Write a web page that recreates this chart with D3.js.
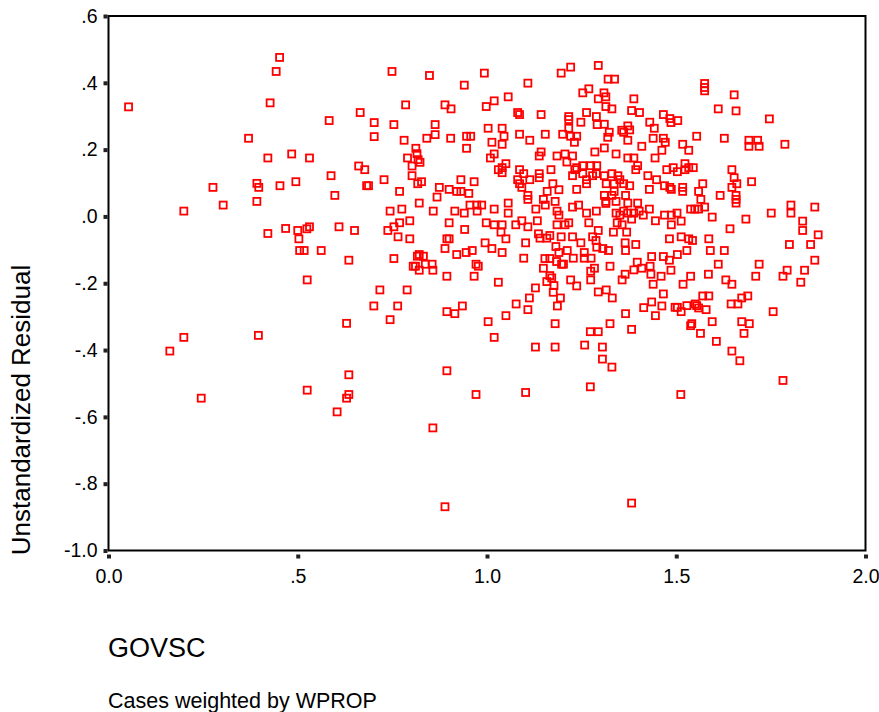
<!DOCTYPE html>
<html>
<head>
<meta charset="utf-8">
<script src="https://cdn.jsdelivr.net/npm/d3@7"></script>
<style>
  body { margin: 0; background: #fff; }
  text { font-family: "Liberation Sans", Arial, sans-serif; fill: #000; }
</style>
</head>
<body>
<div id="chart"></div>
<script>
// GOVSC (x) and unstandardized residual (y)
var govsc = [
  0.452,0.443,0.053,0.427,0.370,0.421,0.484,0.495,0.276,0.392,
  0.397,0.453,0.303,0.392,0.199,0.468,0.500,0.421,0.503,0.505,
  0.199,0.162,0.396,0.245,0.749,0.848,0.940,0.785,0.889,0.905,
  0.665,0.583,0.702,0.754,0.863,0.702,0.863,0.781,0.841,0.904,
  0.946,0.957,0.946,0.812,0.531,0.815,0.790,0.818,0.823,0.802,
  0.661,0.677,0.588,0.802,0.728,0.817,0.827,0.682,0.687,0.931,
  0.966,0.874,0.900,0.920,0.931,0.952,0.769,0.868,0.598,0.821,
  0.955,0.973,0.744,0.775,0.858,0.915,0.940,0.974,0.796,0.769,
  0.900,0.531,0.524,0.609,0.754,0.650,0.738,0.941,0.765,0.796,
  0.894,0.900,0.517,0.562,0.635,0.754,0.889,0.920,0.945,0.961,
  0.816,0.821,0.832,0.811,0.805,0.837,0.855,0.821,0.857,0.894,
  0.966,0.971,0.977,0.525,0.717,0.789,0.701,0.764,0.894,0.915,
  0.935,0.744,0.629,0.894,0.635,0.525,0.635,0.629,0.604,0.971,
  0.857,0.889,1.221,1.196,1.294,0.993,1.320,1.337,1.108,1.269,
  1.253,1.309,1.294,1.314,1.388,1.056,1.019,0.998,1.314,1.330,
  1.081,1.086,1.143,1.263,1.382,1.403,1.216,1.216,1.289,1.248,
  1.291,1.310,1.430,1.003,1.040,1.216,1.372,1.377,1.356,1.361,
  1.323,1.319,1.442,1.086,1.045,1.154,1.200,1.221,1.237,1.113,
  1.013,1.040,1.231,1.372,1.439,1.409,1.310,1.143,1.138,1.019,
  1.009,1.185,1.206,1.226,1.285,1.341,1.372,1.388,1.444,1.050,
  1.030,1.040,1.040,1.086,1.169,1.211,1.253,1.274,1.290,1.237,
  1.232,1.398,1.393,1.138,1.138,1.097,1.113,1.081,1.086,1.092,
  1.226,1.253,1.263,1.279,1.289,1.310,1.330,1.346,1.351,1.361,
  1.315,1.336,1.377,1.425,1.448,1.174,1.190,1.159,1.237,1.263,
  1.336,1.330,1.310,1.366,1.429,1.108,1.108,1.149,1.154,1.180,
  1.056,1.056,1.019,0.986,1.129,1.185,1.190,1.242,1.226,1.263,
  1.289,1.314,1.314,1.341,1.372,1.398,1.341,1.351,1.361,1.372,
  1.388,1.402,1.413,1.429,1.382,0.998,1.019,1.040,1.076,1.092,
  1.108,1.133,1.185,1.206,1.216,1.269,1.294,1.344,1.357,1.445,
  1.037,1.050,0.995,1.013,1.040,1.102,1.136,1.140,1.158,1.166,
  1.196,1.226,1.248,1.279,1.288,1.290,1.306,1.321,1.334,1.365,
  1.369,1.393,1.366,1.182,1.212,1.190,1.257,1.257,1.275,1.228,
  1.097,1.153,1.166,1.184,1.197,1.202,1.149,1.166,1.171,1.158,
  1.177,1.175,1.221,1.237,1.274,1.274,1.284,1.325,1.365,1.357,
  1.388,1.397,1.409,1.431,1.435,1.433,1.439,1.030,1.128,1.112,
  1.194,1.294,1.315,1.331,1.077,1.108,1.186,1.050,1.003,1.180,
  1.366,1.414,1.435,1.445,1.325,1.273,1.294,1.382,1.019,1.128,
  1.180,1.258,1.305,1.305,1.330,1.273,1.102,1.382,1.575,1.575,
  1.575,1.653,1.611,1.658,1.746,1.466,1.483,1.486,1.504,1.554,
  1.627,1.466,1.471,1.517,1.533,1.462,1.692,1.692,1.715,1.719,
  1.787,1.475,1.492,1.503,1.523,1.523,1.533,1.545,1.647,1.653,
  1.660,1.647,1.699,1.570,1.469,1.487,1.483,1.517,1.517,1.559,
  1.616,1.565,1.658,1.658,1.658,1.538,1.549,1.559,1.575,1.469,
  1.487,1.502,1.513,1.487,1.595,1.684,1.751,1.803,1.803,1.866,
  1.834,1.642,1.834,1.875,1.482,1.513,1.533,1.543,1.586,1.799,
  1.855,1.466,1.482,1.503,1.528,1.590,1.627,1.611,1.719,1.866,
  1.793,1.782,1.839,1.710,1.829,1.486,1.460,1.538,1.518,1.585,
  1.631,1.647,1.466,1.462,1.570,1.586,1.673,1.689,1.645,1.663,
  1.497,1.503,1.513,1.528,1.550,1.554,1.559,1.579,1.756,1.595,
  1.673,1.693,1.541,1.538,1.564,1.679,1.606,1.647,1.668,1.782,
  1.512
];

var residual = [
  0.476,0.434,0.328,0.340,0.234,0.175,0.187,0.104,0.087,0.099,
  0.087,0.092,0.034,0.045,0.016,-0.036,-0.042,-0.051,-0.067,-0.102,
  -0.362,-0.403,-0.356,-0.544,0.434,0.422,0.393,0.334,0.334,0.322,
  0.311,0.287,0.281,0.275,0.275,0.239,0.245,0.228,0.234,0.234,
  0.240,0.240,0.204,0.204,0.175,0.188,0.175,0.170,0.162,0.151,
  0.151,0.140,0.122,0.122,0.110,0.098,0.104,0.092,0.092,0.110,
  0.104,0.087,0.081,0.075,0.075,0.069,0.075,0.058,0.063,0.040,
  0.034,0.034,0.016,0.022,0.016,0.016,0.010,0.016,-0.013,-0.019,
  -0.019,-0.031,-0.037,-0.031,-0.031,-0.042,-0.042,-0.039,-0.061,-0.067,
  -0.067,-0.067,-0.102,-0.102,-0.131,-0.126,-0.096,-0.114,-0.108,-0.102,
  -0.119,-0.114,-0.119,-0.149,-0.149,-0.143,-0.143,-0.161,-0.161,-0.179,
  -0.179,-0.143,-0.149,-0.190,-0.220,-0.220,-0.268,-0.268,-0.285,-0.291,
  -0.268,-0.309,-0.320,-0.462,-0.474,-0.520,-0.533,-0.544,-0.585,-0.533,
  -0.633,-0.869,0.447,0.429,0.452,0.429,0.411,0.411,0.399,0.382,
  0.370,0.370,0.352,0.358,0.352,0.358,0.346,0.329,0.329,0.322,
  0.311,0.305,0.305,0.311,0.317,0.311,0.299,0.290,0.299,0.282,
  0.275,0.276,0.282,0.264,0.264,0.264,0.271,0.259,0.258,0.252,
  0.252,0.237,0.264,0.246,0.240,0.246,0.246,0.240,0.240,0.228,
  0.222,0.216,0.222,0.228,0.234,0.210,0.205,0.193,0.181,0.187,
  0.175,0.181,0.187,0.181,0.193,0.187,0.175,0.175,0.175,0.158,
  0.140,0.146,0.131,0.140,0.140,0.163,0.152,0.152,0.152,0.146,
  0.140,0.152,0.140,0.128,0.116,0.128,0.110,0.110,0.098,0.087,
  0.122,0.128,0.110,0.122,0.128,0.122,0.128,0.122,0.110,0.098,
  0.098,0.098,0.092,0.122,0.110,0.098,0.080,0.075,0.081,0.098,
  0.075,0.063,0.063,0.063,0.081,0.063,0.051,0.051,0.034,0.045,
  0.040,0.010,0.022,0.034,0.022,0.016,0.004,0.034,0.028,0.010,
  0.016,0.045,0.039,0.045,0.040,0.040,0.010,0.004,0.016,0.010,
  0.010,0.016,0.004,0.022,-0.008,-0.019,-0.025,-0.025,-0.025,-0.013,
  -0.031,-0.013,-0.025,-0.025,-0.019,-0.019,-0.042,-0.019,-0.025,-0.013,
  -0.047,-0.067,-0.079,-0.096,-0.108,-0.079,-0.052,-0.065,-0.065,-0.057,
  -0.061,-0.061,-0.079,-0.061,-0.072,-0.092,-0.096,-0.102,-0.047,-0.079,
  -0.047,-0.084,-0.102,-0.090,-0.102,-0.108,-0.108,-0.125,-0.125,-0.125,
  -0.125,-0.126,-0.126,-0.135,-0.143,-0.143,-0.155,-0.177,-0.184,-0.195,
  -0.207,-0.227,-0.190,-0.208,-0.164,-0.190,-0.155,-0.149,-0.173,-0.190,
  -0.160,-0.137,-0.155,-0.149,-0.120,-0.173,-0.203,-0.197,-0.214,-0.244,
  -0.244,-0.226,-0.220,-0.244,-0.262,-0.279,-0.268,-0.297,-0.315,-0.321,
  -0.291,-0.273,-0.256,-0.297,-0.321,-0.345,-0.345,-0.338,-0.362,-0.391,
  -0.391,-0.385,-0.391,-0.427,-0.451,-0.510,-0.527,-0.858,0.398,0.386,
  0.376,0.364,0.322,0.316,0.292,0.305,0.293,0.281,0.287,0.240,
  0.234,0.234,0.222,0.216,0.198,0.198,0.228,0.210,0.228,0.210,
  0.216,0.140,0.146,0.134,0.158,0.140,0.146,0.146,0.140,0.116,
  0.098,0.087,0.104,0.098,0.092,0.081,0.087,0.087,0.075,0.075,
  0.063,0.051,0.063,0.051,0.040,0.022,0.022,0.022,0.028,0.004,
  0.004,0.010,-0.014,-0.025,-0.002,-0.008,0.010,0.034,0.010,0.028,
  -0.014,-0.037,-0.042,-0.055,-0.067,-0.061,-0.067,-0.072,-0.067,-0.084,
  -0.084,-0.120,-0.131,-0.114,-0.102,-0.102,-0.102,-0.143,-0.143,-0.131,
  -0.161,-0.179,-0.161,-0.179,-0.197,-0.161,-0.179,-0.179,-0.203,-0.173,
  -0.190,-0.203,-0.232,-0.268,-0.238,-0.238,-0.244,-0.238,-0.262,-0.262,
  -0.272,-0.272,-0.285,-0.267,-0.262,-0.267,-0.274,-0.279,-0.285,-0.315,
  -0.315,-0.321,-0.321,-0.327,-0.350,-0.350,-0.374,-0.403,-0.432,-0.491,
  -0.533
];

var xTicks = [0, 0.5, 1, 1.5, 2];
var xTickLabels = ["0.0", ".5", "1.0", "1.5", "2.0"];
var yTicks = [0.6, 0.4, 0.2, 0, -0.2, -0.4, -0.6, -0.8, -1.0];
var yTickLabels = [".6", ".4", ".2", ".0", "-.2", "-.4", "-.6", "-.8", "-1.0"];

var xTitle = "GOVSC";
var yTitle = "Unstandardized Residual";
var footnote = "Cases weighted by WPROP";

var
  w = 879,
  h = 712,
  x = d3.scaleLinear().domain([0, 2]).range([108.5, 865.5]),
  y = d3.scaleLinear().domain([-1, 0.6]).range([550.5, 16]);

var points = govsc.map(function(g, i) { return {g: g, r: residual[i]}; });

var svg = d3.select("#chart").append("svg")
  .attr("width", w)
  .attr("height", h)
  .style("background", "#fff");

// axes: labels via d3 axes, tick marks drawn as small squares like SPSS
var xAxis = d3.axisBottom(x).tickValues(xTicks)
  .tickFormat(function(d, i) { return xTickLabels[i]; })
  .tickSize(0).tickPadding(19);
var yAxis = d3.axisLeft(y).tickValues(yTicks)
  .tickFormat(function(d, i) { return yTickLabels[i]; })
  .tickSize(0).tickPadding(11);

var gx = svg.append("g").attr("transform", "translate(0," + y(-1) + ")").call(xAxis);
var gy = svg.append("g").attr("transform", "translate(" + x(0) + ",0)").call(yAxis);

[gx, gy].forEach(function(g) {
  g.select(".domain").remove();
  g.selectAll("text").style("font-family", "'Liberation Sans', Arial, sans-serif")
    .style("font-size", "19.5px").attr("fill", "#000");
});
gx.selectAll(".tick").append("rect")
  .attr("x", -2).attr("y", 4).attr("width", 4).attr("height", 4).attr("fill", "#222");
gy.selectAll(".tick").append("rect")
  .attr("x", -5).attr("y", -2).attr("width", 4).attr("height", 4).attr("fill", "#222");

// frame
svg.append("rect")
  .attr("x", x(0)).attr("y", y(0.6))
  .attr("width", x(2) - x(0)).attr("height", y(-1) - y(0.6))
  .attr("fill", "none").attr("stroke", "#000").attr("stroke-width", 2);

// points
svg.append("g").selectAll("rect.pt")
  .data(points)
  .enter().append("rect")
    .attr("class", "pt")
    .attr("x", function(d) { return x(d.g) - 3.5; })
    .attr("y", function(d) { return y(d.r) - 3.5; })
    .attr("width", 7).attr("height", 7)
    .attr("fill", "none")
    .attr("stroke", "#ff0000")
    .attr("stroke-width", 1.8);

// titles
svg.append("text")
  .attr("transform", "translate(30,410) rotate(-90)")
  .attr("text-anchor", "middle")
  .style("font-size", "26px")
  .text(yTitle);

svg.append("text")
  .attr("x", 108).attr("y", 657)
  .style("font-size", "27px")
  .text(xTitle);

svg.append("text")
  .attr("x", 108).attr("y", 708)
  .style("font-size", "21.5px")
  .text(footnote);
</script>
</body>
</html>
